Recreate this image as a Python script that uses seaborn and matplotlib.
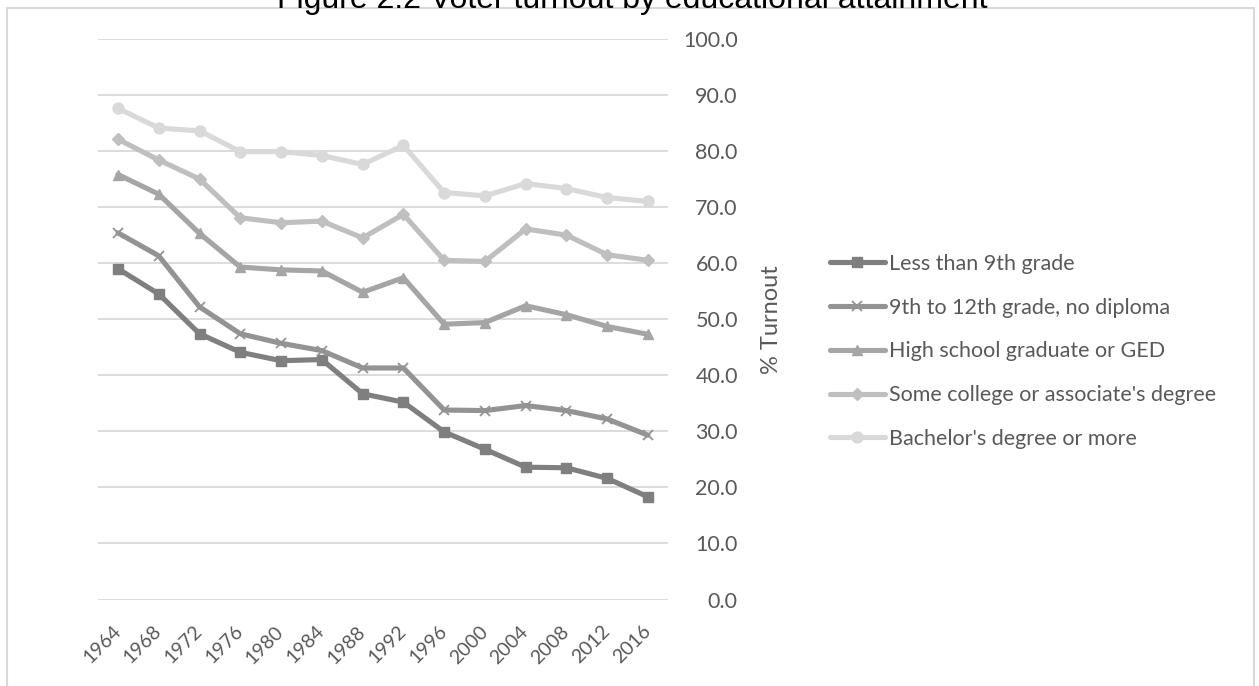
import matplotlib
matplotlib.use("Agg")
import matplotlib.pyplot as plt
from matplotlib.patches import Rectangle
from matplotlib.transforms import ScaledTranslation
import seaborn as sns
import pandas as pd

years = [1964, 1968, 1972, 1976, 1980, 1984, 1988, 1992, 1996, 2000, 2004, 2008, 2012, 2016]

groups = [
    "Less than 9th grade",
    "9th to 12th grade, no diploma",
    "High school graduate or GED",
    "Some college or associate's degree",
    "Bachelor's degree or more",
]

less_than_9th = [59.0, 54.5, 47.4, 44.1, 42.6, 42.8, 36.7, 35.2, 29.9, 26.8, 23.6, 23.5, 21.6, 18.3]
grade_9_to_12 = [65.4, 61.3, 52.2, 47.4, 45.7, 44.4, 41.3, 41.3, 33.8, 33.7, 34.6, 33.7, 32.2, 29.3]
high_school = [75.8, 72.3, 65.3, 59.3, 58.8, 58.6, 54.8, 57.4, 49.1, 49.4, 52.4, 50.8, 48.7, 47.3]
some_college = [82.1, 78.4, 75.0, 68.1, 67.2, 67.5, 64.5, 68.7, 60.5, 60.3, 66.1, 65.0, 61.5, 60.5]
bachelors = [87.6, 84.1, 83.6, 79.9, 79.9, 79.2, 77.6, 81.0, 72.6, 72.0, 74.2, 73.3, 71.7, 71.0]

series = [less_than_9th, grade_9_to_12, high_school, some_college, bachelors]

df = pd.DataFrame(
    [(y, g, v) for g, vals in zip(groups, series) for y, v in zip(years, vals)],
    columns=["Year", "Group", "Turnout"],
)

colors = ["#7f7f7f", "#939393", "#a5a5a5", "#bfbfbf", "#d9d9d9"]
markers = ["s", "x", "^", "D", "o"]
marker_sizes = [10, 10, 10, 8, 10.5]

sns.set_theme(style="white")
plt.rcParams["font.family"] = ["Lato", "DejaVu Sans"]

fig = plt.figure(figsize=(12.59, 6.86), dpi=100)
ax = fig.add_axes([97.6 / 1259, 1 - 599.5 / 686, 570.8 / 1259, 560.6 / 686])

for g, c, m, ms in zip(groups, colors, markers, marker_sizes):
    sns.lineplot(
        data=df[df["Group"] == g], x="Year", y="Turnout", label=g,
        color=c, marker=m, markersize=ms, markerfacecolor=c,
        markeredgecolor=c, markeredgewidth=1.3 if m == "x" else 1.0,
        linewidth=3.7, ax=ax,
    )

ax.set_xlim(1962, 2018)
ax.set_ylim(0, 100)
ax.set_xticks(years)
ax.set_xticklabels([str(y) for y in years], rotation=45, ha="right", va="center",
                   rotation_mode="anchor", fontsize=14, color="#595959")
# nudge the slanted year labels slightly left
shift = ScaledTranslation(-4 / 100, 0, fig.dpi_scale_trans)
for lbl in ax.get_xticklabels():
    lbl.set_transform(lbl.get_transform() + shift)
ax.set_yticks(range(0, 101, 10))
ax.set_yticklabels([f"{v:.1f}" for v in range(0, 101, 10)], fontsize=15.5,
                   color="#595959", ha="right")
ax.yaxis.tick_right()
ax.tick_params(axis="y", length=0, pad=50)
ax.tick_params(axis="x", length=0, pad=21)
ax.yaxis.set_label_position("right")
ax.set_ylabel("% Turnout", fontsize=17, color="#595959", labelpad=17)
ax.set_xlabel("")

ax.grid(axis="y", color="#d9d9d9", linewidth=1.3)
ax.grid(axis="x", visible=False)
for s in ax.spines.values():
    s.set_visible(False)

handles, labels = ax.get_legend_handles_labels()
for h, ms in zip(handles, marker_sizes):
    h.set_markersize(ms * 0.75)
leg = ax.legend(
    handles, labels, loc="upper left", frameon=False,
    bbox_to_anchor=(830 / 1259, 1 - 254 / 686), bbox_transform=fig.transFigure,
    fontsize=15.5, handlelength=2.55, handletextpad=0.18, labelspacing=1.1,
    borderpad=0, borderaxespad=0,
)
for t in leg.get_texts():
    t.set_color("#595959")

# chart frame
fig.patches.append(Rectangle((7 / 1259, -0.05), 1247 / 1259, 1.05 - 8 / 686,
                             transform=fig.transFigure, fill=False,
                             edgecolor="#d9d9d9", linewidth=1.5))

fig.text(632 / 1259, 1 - 8 / 686, "Figure 2.2 Voter turnout by educational attainment",
         ha="center", va="baseline", fontsize=23, color="#000000",
         family=["Liberation Sans", "DejaVu Sans"])

fig.savefig("out.png", dpi=100)
